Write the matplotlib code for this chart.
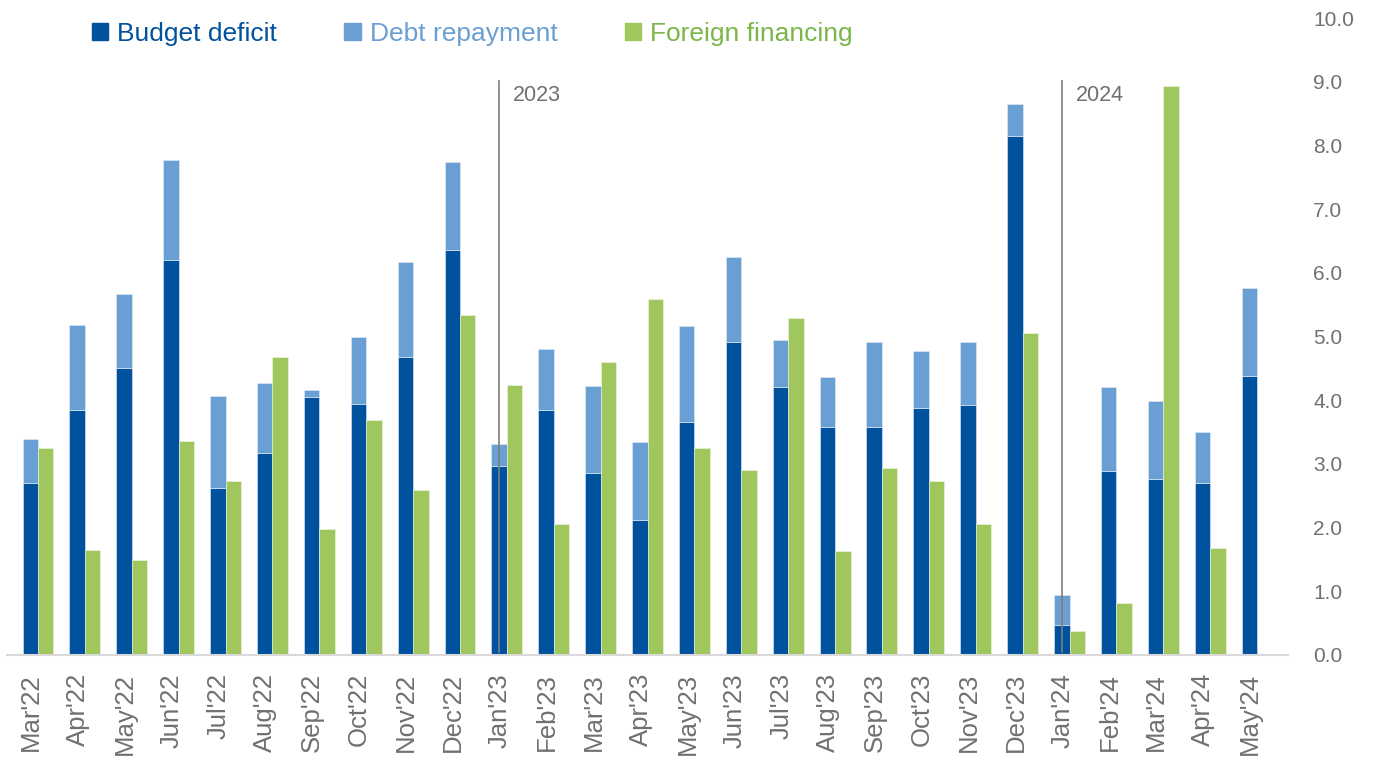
import matplotlib
matplotlib.use("Agg")
import matplotlib.pyplot as plt
import matplotlib.transforms as mtransforms
import numpy as np
from matplotlib.patches import Patch

months = ["Mar'22", "Apr'22", "May'22", "Jun'22", "Jul'22", "Aug'22", "Sep'22", "Oct'22",
          "Nov'22", "Dec'22", "Jan'23", "Feb'23", "Mar'23", "Apr'23", "May'23", "Jun'23",
          "Jul'23", "Aug'23", "Sep'23", "Oct'23", "Nov'23", "Dec'23", "Jan'24", "Feb'24",
          "Mar'24", "Apr'24", "May'24"]
budget_deficit = [2.70, 3.85, 4.51, 6.20, 2.62, 3.17, 4.05, 3.94, 4.68, 6.36, 2.97, 3.85,
                  2.86, 2.12, 3.66, 4.91, 4.21, 3.58, 3.58, 3.88, 3.92, 8.15, 0.47, 2.89,
                  2.76, 2.70, 4.38]
total_need = [3.39, 5.18, 5.67, 7.77, 4.07, 4.27, 4.16, 4.99, 6.17, 7.74, 3.31, 4.80,
              4.22, 3.34, 5.16, 6.25, 4.95, 4.36, 4.91, 4.77, 4.91, 8.65, 0.94, 4.21,
              3.99, 3.50, 5.76]
debt_repayment = [t - d for t, d in zip(total_need, budget_deficit)]
foreign_financing = [3.25, 1.65, 1.49, 3.36, 2.73, 4.68, 1.98, 3.69, 2.59, 5.34, 4.24, 2.06,
                     4.60, 5.59, 3.25, 2.90, 5.29, 1.63, 2.94, 2.73, 2.06, 5.05, 0.38, 0.82,
                     8.93, 1.68, 0.02]
year_marks = [("2023", "Jan'23"), ("2024", "Jan'24")]
y_ticks = [0, 1, 2, 3, 4, 5, 6, 7, 8, 9, 10]

c_def = "#00519E"
c_debt = "#6A9FD4"
c_ff = "#A0C65E"
grey = "#707070"
fam = ["Liberation Sans", "DejaVu Sans"]

fig = plt.figure(figsize=(13.81, 7.6), dpi=100)
ax = fig.add_axes([0.00507, 0.1382, 0.9276, 0.838])

x = np.arange(len(months))
w = 0.33
ax.bar(x - w / 2, budget_deficit, w, color=c_def, edgecolor="#E8EEF6", linewidth=0.4)
ax.bar(x - w / 2, debt_repayment, w, bottom=budget_deficit, color=c_debt, edgecolor="#E8EEF6", linewidth=0.4)
ax.bar(x + w / 2, foreign_financing, w, color=c_ff, edgecolor="#EEF5E4", linewidth=0.4)

for label, m in year_marks:
    i = months.index(m)
    ax.plot([i - w / 2, i - w / 2], [0.05, 9.02], color="#7F7F7F", lw=1.2, zorder=3)
    ax.text(i - w / 2 + 0.3, 8.78, label, color=grey, fontsize=15.5,
            family=fam, va="center", ha="left")

ax.set_xlim(-0.661, len(months) - 1 + 0.66)
ax.set_ylim(0, 10)
ax.yaxis.tick_right()
ax.set_yticks(y_ticks)
ax.set_yticklabels([f"{v:.1f}" for v in y_ticks], color=grey, fontsize=15, family=fam)
ax.tick_params(axis="y", length=0, pad=18)
ax.set_xticks(x)
ax.set_xticklabels(months, rotation=90, color=grey, fontsize=18.5, family=fam)
ax.tick_params(axis="x", length=0, pad=13)
shift = mtransforms.ScaledTranslation(-7 / 100, 0, fig.dpi_scale_trans)
for lab in ax.get_xticklabels():
    lab.set_transform(lab.get_transform() + shift)
for s in ["top", "left", "right"]:
    ax.spines[s].set_visible(False)
ax.spines["bottom"].set_color("#D9D9D9")
ax.spines["bottom"].set_linewidth(1.5)

handles = [Patch(color=c_def), Patch(color=c_debt), Patch(color=c_ff)]
labels = ["Budget deficit", "Debt repayment", "Foreign financing"]
leg = fig.legend(handles, labels, loc="upper left", bbox_to_anchor=(0.0666, 0.971), ncol=3,
                 frameon=False, handlelength=0.62, handleheight=0.62, handletextpad=0.34,
                 columnspacing=2.55, borderpad=0, borderaxespad=0,
                 prop={"family": fam, "size": 19})
for t, c in zip(leg.get_texts(), [c_def, c_debt, "#7AB648"]):
    t.set_color(c)

fig.savefig("out.png", dpi=100, facecolor="white")
